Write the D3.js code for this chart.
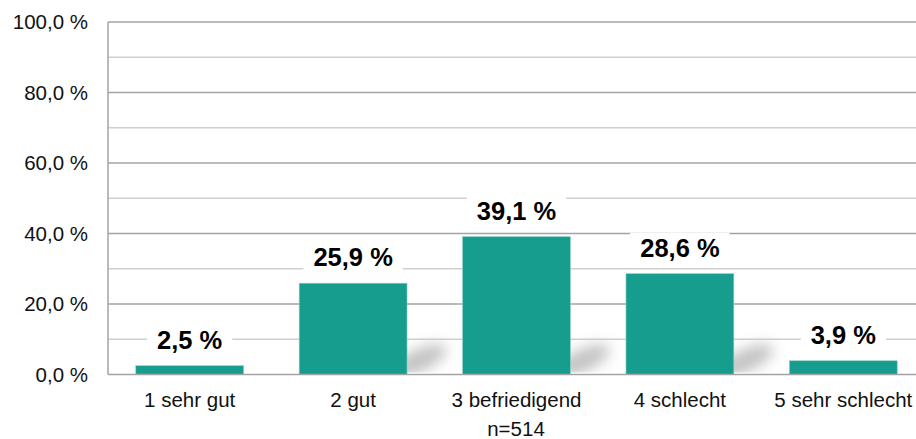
<!DOCTYPE html>
<html>
<head>
<meta charset="utf-8">
<script src="https://cdn.jsdelivr.net/npm/d3@7"></script>
<style>
  body { margin: 0; background: #fff; }
  svg { display: block; font-family: "Liberation Sans", Arial, sans-serif; }
</style>
</head>
<body>
<svg width="916" height="439"></svg>
<script>
const categories = ['1 sehr gut', '2 gut', '3 befriedigend', '4 schlecht', '5 sehr schlecht'];
const values = [2.5, 25.9, 39.1, 28.6, 3.9];
const yTicks = [0, 20, 40, 60, 80, 100];
const yMinor = [10, 30, 50, 70, 90];
const footnote = 'n=514';

const svg = d3.select('svg');

const margin = { top: 22, left: 108 };
const innerWidth = 817;
const innerHeight = 352.5;

const de = d3.formatLocale({ decimal: ',', thousands: '.', grouping: [3], currency: ['', ' €'] });
const fmt = de.format('.1f');

const xScale = d3.scaleBand()
  .domain(categories)
  .range([0, innerWidth])
  .paddingInner(0.34)
  .paddingOuter(0.17);

const yScale = d3.scaleLinear()
  .domain([0, 100])
  .range([innerHeight, 0]);

const defs = svg.append('defs');
defs.append('filter')
    .attr('id', 'blur')
    .attr('filterUnits', 'userSpaceOnUse')
    .attr('x', -100).attr('y', -100)
    .attr('width', 1100).attr('height', 600)
  .append('feGaussianBlur')
    .attr('stdDeviation', 7);
defs.append('clipPath')
    .attr('id', 'plotClip')
  .append('rect')
    .attr('x', 0).attr('y', 0)
    .attr('width', innerWidth).attr('height', innerHeight - 2);

const g = svg.append('g')
    .attr('transform', `translate(${margin.left},${margin.top})`);

// gridlines
g.selectAll('.minor').data(yMinor)
  .enter().append('line')
    .attr('x1', 0).attr('x2', innerWidth)
    .attr('y1', d => yScale(d)).attr('y2', d => yScale(d))
    .attr('stroke', '#cfcfcf')
    .attr('stroke-width', 1.5);

g.selectAll('.major').data(yTicks.filter(d => d > 0))
  .enter().append('line')
    .attr('x1', 0).attr('x2', innerWidth)
    .attr('y1', d => yScale(d)).attr('y2', d => yScale(d))
    .attr('stroke', '#a3a3a3')
    .attr('stroke-width', 1.5);

// y axis labels
const yAxis = d3.axisLeft(yScale)
  .tickValues(yTicks)
  .tickSize(0)
  .tickPadding(20)
  .tickFormat(d => fmt(d) + ' %');

g.append('g')
  .call(yAxis)
  .call(s => s.select('.domain').remove())
  .selectAll('text')
    .attr('font-size', 20.5)
    .attr('font-family', '"Liberation Sans", Arial, sans-serif')
    .attr('fill', '#111');

// soft shadows behind the taller bars
const shadowG = g.append('g').attr('clip-path', 'url(#plotClip)');
shadowG.append('g').attr('filter', 'url(#blur)')
  .selectAll('ellipse').data(values.filter(d => d > 10).map(d => values.indexOf(d)))
  .enter().append('ellipse')
    .attr('transform', i =>
      `translate(${xScale(categories[i]) + xScale.bandwidth() + 12},${innerHeight - 14}) rotate(-25)`)
    .attr('rx', 30)
    .attr('ry', 11)
    .attr('fill', '#c2c2c2');

// bars
g.selectAll('.bar').data(values)
  .enter().append('rect')
    .attr('x', (d, i) => xScale(categories[i]))
    .attr('y', d => yScale(d))
    .attr('width', xScale.bandwidth())
    .attr('height', d => innerHeight - yScale(d))
    .attr('fill', '#179d8e')
    .attr('stroke', '#8fd0c6')
    .attr('stroke-width', 0.6);

// axis lines
g.append('line')
  .attr('x1', 0).attr('x2', 0)
  .attr('y1', 0).attr('y2', innerHeight)
  .attr('stroke', '#a3a3a3').attr('stroke-width', 1.5);
g.append('line')
  .attr('x1', 0).attr('x2', innerWidth)
  .attr('y1', innerHeight).attr('y2', innerHeight)
  .attr('stroke', '#a3a3a3').attr('stroke-width', 1.5);

// value labels with white boxes
const labels = g.selectAll('.vlabel').data(values)
  .enter().append('g')
    .attr('transform', (d, i) =>
      `translate(${xScale(categories[i]) + xScale.bandwidth() / 2},${yScale(d) - 17})`);

labels.append('text')
    .attr('text-anchor', 'middle')
    .attr('font-size', 25.5)
    .attr('font-weight', 'bold')
    .attr('fill', '#000')
    .text(d => fmt(d) + ' %')
    .each(function() {
      const bb = this.getBBox();
      d3.select(this.parentNode).insert('rect', 'text')
        .attr('x', bb.x - 10)
        .attr('y', -24)
        .attr('width', bb.width + 20)
        .attr('height', 32)
        .attr('fill', '#fff');
    });

// x axis labels
const xAxis = d3.axisBottom(xScale).tickSize(0).tickPadding(18);
g.append('g')
  .attr('transform', `translate(0,${innerHeight})`)
  .call(xAxis)
  .call(s => s.select('.domain').remove())
  .selectAll('text')
    .attr('font-size', 20.5)
    .attr('font-family', '"Liberation Sans", Arial, sans-serif')
    .attr('fill', '#111');

svg.append('text')
  .attr('x', 516)
  .attr('y', 436)
  .attr('text-anchor', 'middle')
  .attr('font-size', 20.5)
  .attr('fill', '#111')
  .text(footnote);
</script>
</body>
</html>
